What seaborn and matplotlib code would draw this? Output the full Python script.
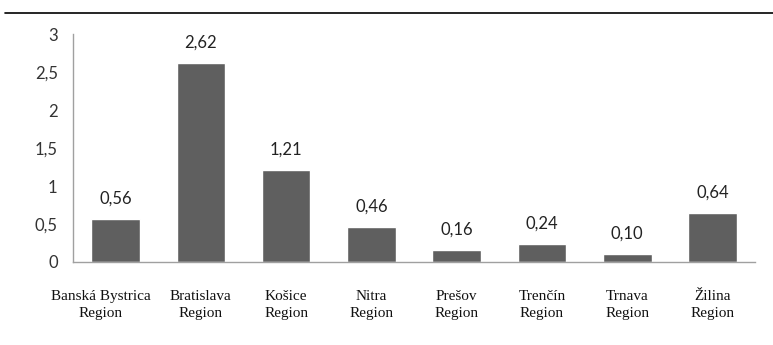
import pandas as pd
import seaborn as sns
import matplotlib.pyplot as plt
from matplotlib.lines import Line2D
from matplotlib.ticker import FuncFormatter
from matplotlib.transforms import ScaledTranslation

regions = ['Banská Bystrica\nRegion', 'Bratislava\nRegion', 'Košice\nRegion',
           'Nitra\nRegion', 'Prešov\nRegion', 'Trenčín\nRegion',
           'Trnava\nRegion', 'Žilina\nRegion']
values = [0.56, 2.62, 1.21, 0.46, 0.16, 0.24, 0.10, 0.64]
y_ticks = [0, 0.5, 1, 1.5, 2, 2.5, 3]

sns.set_theme(style="white")
plt.rcParams['font.family'] = ['Lato', 'DejaVu Sans']

df = pd.DataFrame({'region': regions, 'value': values})

fig = plt.figure(figsize=(7.73, 3.45), dpi=100)
ax = fig.add_axes([0.0944, 0.2406, 0.8826, 0.6608])

sns.barplot(data=df, x='region', y='value', color='#5f5f5f', saturation=1,
            width=0.57, ax=ax)

ax.set_ylim(0, 3)
ax.set_yticks(y_ticks)
ax.yaxis.set_major_formatter(FuncFormatter(lambda v, p: f'{v:g}'.replace('.', ',')))
ax.tick_params(axis='y', length=0, labelsize=12, colors='#333333', pad=11)
ax.tick_params(axis='x', length=0, pad=20)
for lbl in ax.get_xticklabels():
    lbl.set_fontfamily(['Liberation Serif', 'DejaVu Serif'])
    lbl.set_fontsize(11)
    lbl.set_linespacing(1.45)
    lbl.set_color('#111111')

# first label sits a bit left of its bar in the original
first = ax.get_xticklabels()[0]
first.set_transform(first.get_transform() +
                    ScaledTranslation(-0.15, 0, fig.dpi_scale_trans))

ax.set_xlabel('')
ax.set_ylabel('')

for s in ['top', 'right']:
    ax.spines[s].set_visible(False)
for s in ['left', 'bottom']:
    ax.spines[s].set_color('#a0a0a0')
    ax.spines[s].set_linewidth(1)

for p, v in zip(ax.patches, values):
    ax.annotate(f'{v:.2f}'.replace('.', ','),
                (p.get_x() + p.get_width() / 2, p.get_height()),
                xytext=(0, 9), textcoords='offset points',
                ha='center', va='bottom', fontsize=12, color='#222222')

fig.add_artist(Line2D([0.006, 1.0], [0.962, 0.962], transform=fig.transFigure,
                      color='black', linewidth=1.2))

fig.savefig('out.png', dpi=100)
